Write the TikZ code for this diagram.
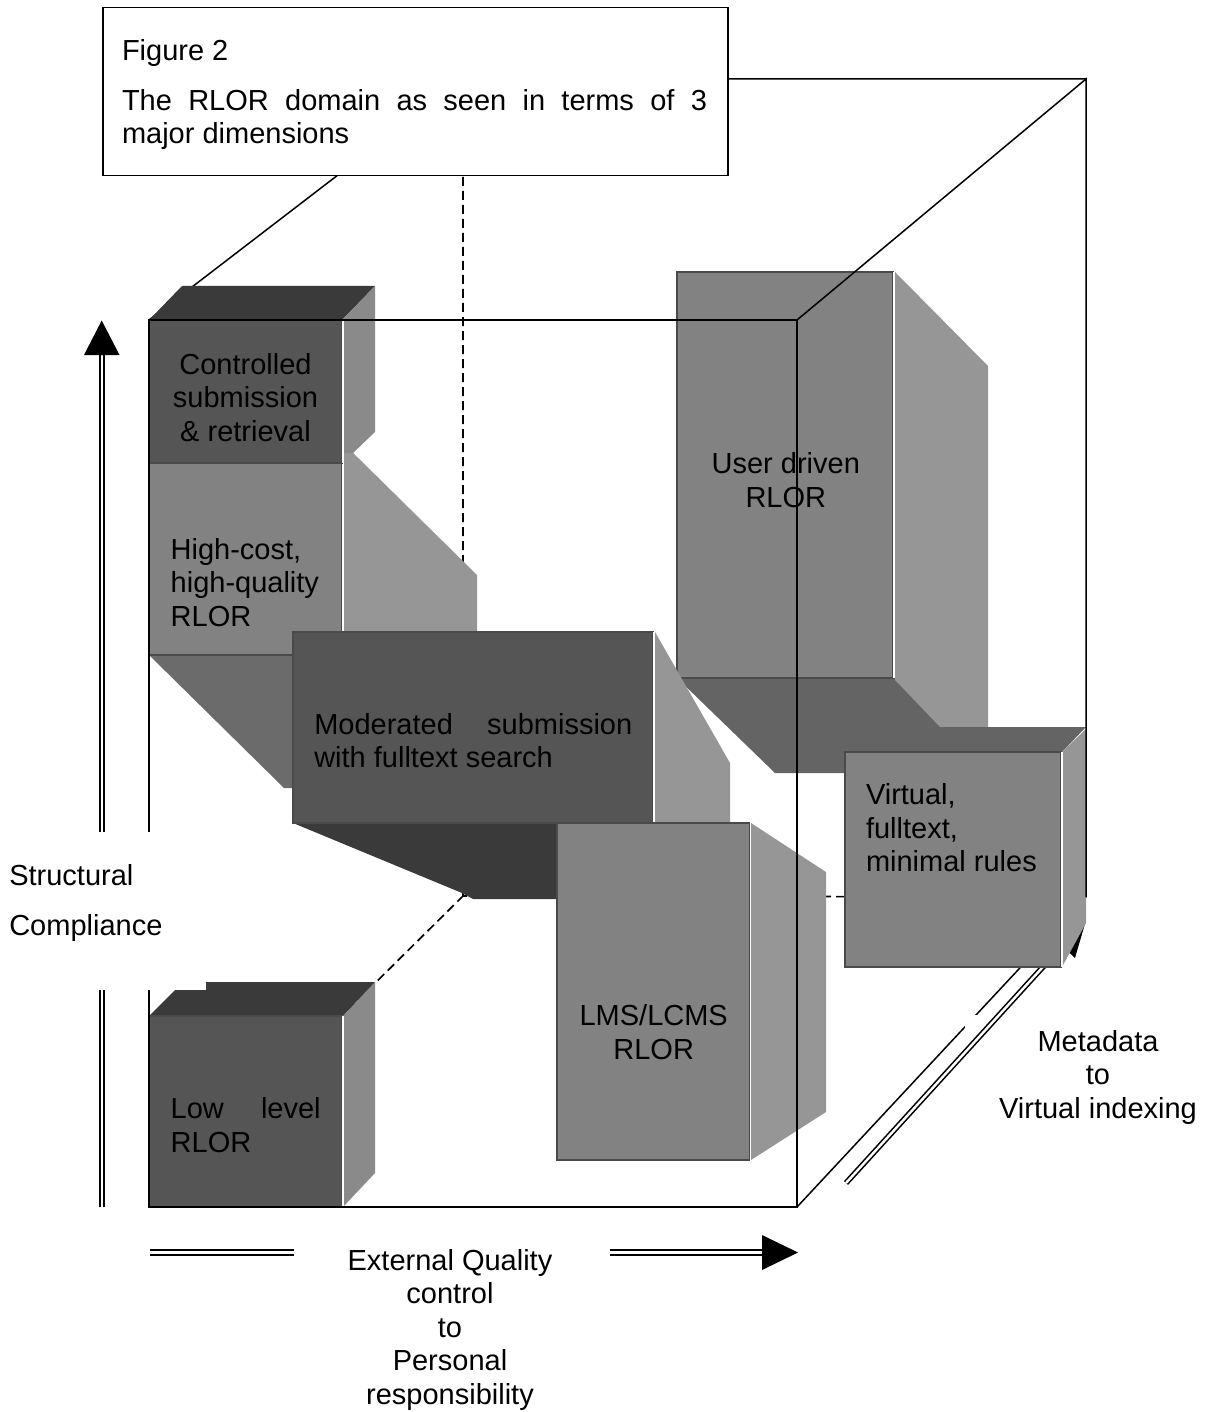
\documentclass[tikz,border=0pt]{standalone}
\usepackage{fontspec}
\setmainfont{Liberation Sans}
\definecolor{dkface}{HTML}{555555}
\definecolor{mdface}{HTML}{828282}
\definecolor{ltside}{HTML}{969696}
\definecolor{mdside}{HTML}{8A8A8A}
\definecolor{dktop}{HTML}{3A3A3A}
\definecolor{hcbot}{HTML}{6B6B6B}
\definecolor{udbot}{HTML}{646464}
\definecolor{edgegray}{HTML}{4A4A4A}
\tikzset{
  lbl/.style={font=\fontsize{29}{33.5}\selectfont, inner sep=0pt, outer sep=0pt},
  cubeline/.style={line width=1.5pt, draw=black},
  hidden/.style={line width=1.7pt, draw=black, dash pattern=on 9pt off 5pt},
  frontface/.style={draw=edgegray, line width=1.4pt},
  sepline/.style={draw=white, line width=1.6pt},
  dblline/.style={draw=black, line width=2pt, double=white, double distance=2.4pt},
  blank/.style={fill=white, draw=none},
}
\begin{document}
\begin{tikzpicture}[x=1pt,y=-1pt]
\useasboundingbox (0,0) rectangle (1211,1412);
% cube corners
\coordinate (Ftl) at (149,320);
\coordinate (Ftr) at (797,320);
\coordinate (Fbr) at (797,1207);
\coordinate (Fbl) at (149,1207);
\coordinate (Btl) at (463,79);
\coordinate (Btr) at (1086,79);
\coordinate (Bbr) at (1086,897);
\coordinate (Bbl) at (463,896);
% hidden and rear edges
\draw[hidden] (Btl) -- (Bbl) -- (Bbr);
\draw[hidden] (Fbl) -- (Bbl);
\draw[cubeline] (Ftl) -- (Btl) -- (Btr);
\draw[cubeline] (Fbr) -- (Bbr);
% High-cost box
\fill[ltside] (342,442) -- (477,575) -- (477,788) -- (342,655) -- cycle;
\fill[hcbot] (149,655) -- (342,655) -- (477,788) -- (284,788) -- cycle;
\filldraw[fill=mdface, frontface] (149,442) rectangle (342,655);
\draw[sepline] (342.8,442) -- (342.8,655);
% Controlled box
\fill[dktop] (149,320) -- (182,286) -- (375,286) -- (342,320) -- cycle;
\fill[mdside] (342,320) -- (375,286) -- (375,432) -- (353,453) -- (342,453) -- cycle;
\filldraw[fill=dkface, frontface] (149,320) rectangle (342,463);
\draw[sepline] (342.8,320) -- (342.8,463);
% User driven box
\fill[udbot] (677,678) -- (895,678) -- (942,727) -- (942,773) -- (775,773) -- cycle;
\fill[ltside] (895,272) -- (988,366) -- (988,727) -- (940,727) -- (895,680) -- cycle;
\filldraw[fill=mdface, frontface] (677,272) rectangle (893,678);
\draw[sepline] (894,272) -- (894,678);
% Moderated box
\fill[dktop] (293,823) -- (462,893) -- (473,899) -- (557,899) -- (557,823) -- cycle;
\fill[ltside] (655,632) -- (730,763) -- (730,823) -- (655,823) -- cycle;
\filldraw[fill=dkface, frontface] (293,632) rectangle (653,823);
\draw[sepline] (654,632) -- (654,823);
% LMS box
\fill[ltside] (751,823) -- (826,872) -- (826,1112) -- (751,1160) -- cycle;
\filldraw[fill=mdface, frontface] (557,823) rectangle (749.5,1160);
\draw[sepline] (750.5,823) -- (750.5,1160);
% Low level box
\fill[dktop] (149,1016) -- (175,990) -- (206,990) -- (206,982) -- (375,982) -- (343,1016) -- cycle;
\fill[mdside] (343,1016) -- (375,982) -- (375,1173) -- (343,1207) -- cycle;
\filldraw[fill=dkface, frontface] (149,1016) rectangle (342,1207);
\draw[sepline] (342.8,1016) -- (342.8,1207);
% metadata label background
\fill[blank] (965,1015) rectangle (1211,1140);
% metadata arrow
\coordinate (Ms) at (846,1183);
\coordinate (Mb) at (1062,946);
\coordinate (Mt) at (1085.7,921.3);
\draw[dblline, line width=1.6pt] (Ms) -- (Mb);
\fill[black] (Mt) -- (1075,958) -- (1049.6,934) -- cycle;
% Virtual box
\fill[udbot] (845,752) -- (868,727) -- (1086,727) -- (1062,752) -- cycle;
\fill[ltside] (1062,752) -- (1086,729) -- (1086,923) -- (1062,967) -- cycle;
\filldraw[fill=mdface, frontface] (845,752) rectangle (1061,967);
\draw[sepline] (1062,752) -- (1062,967);
% front face and visible edges
\draw[cubeline] (Ftl) rectangle (Fbr);
\draw[cubeline] (Ftr) -- (Btr) -- (Bbr);
% caption
\node[draw, fill=white, line width=1.5pt, anchor=north west, minimum width=625pt, minimum height=168pt, inner sep=0pt] (caption) at (102,7) {};
\node[lbl, anchor=base west] (capA) at (122,61) {Figure 2};
\node[lbl, anchor=base west] (capB) at (122,110.5) {\makebox[585pt][s]{The RLOR domain as seen in terms of 3}};
\node[lbl, anchor=base west] (capC) at (122,143.5) {major dimensions};
% box labels (anchor base = baseline of the last line)
\node[lbl, align=center, anchor=base] (ctrl) at (245.5,441) {Controlled\\submission\\\& retrieval};
\node[lbl, align=left, anchor=base west] (hicost) at (170.7,626) {High-cost,\\high-quality\\RLOR};
\node[lbl, align=left, anchor=base west] (moder) at (314.3,767.7) {\makebox[318pt][s]{Moderated submission}\\with fulltext search};
\node[lbl, align=center, anchor=base] (user) at (785.8,507.3) {User driven\\RLOR};
\node[lbl, align=left, anchor=base west] (virt) at (866,871.7) {Virtual,\\fulltext,\\minimal rules};
\node[lbl, align=center, anchor=base] (lms) at (653.7,1059.3) {LMS/LCMS\\RLOR};
\node[lbl, align=left, anchor=base west] (low) at (170.7,1152.3) {\makebox[150pt][s]{Low level}\\RLOR};
% left axis
\coordinate (Ls) at (101.7,1207);
\coordinate (Lb) at (101.7,355);
\draw[dblline] (Ls) -- (Lb);
\fill[black] (84,355) -- (119.5,355) -- (101.7,320.5) -- cycle;
\fill[blank] (0,832) rectangle (170,990);
\node[lbl, anchor=base west] (struct) at (9.3,885.7) {Structural};
\node[lbl, anchor=base west] (compl) at (9.3,935) {Compliance};
% bottom axis
\coordinate (Hs) at (150,1252.5);
\coordinate (He) at (762,1252.5);
\draw[dblline] (Hs) -- (He);
\fill[black] (762,1235) -- (762,1270) -- (798,1252.5) -- cycle;
\fill[blank] (294,1232) rectangle (610,1412);
\node[lbl, align=center, anchor=base] (ext) at (450,1404) {External Quality\\control\\to\\Personal\\responsibility};
% metadata label
\node[lbl, align=center, anchor=base] (meta) at (1098,1118.3) {Metadata\\to\\Virtual indexing};
\end{tikzpicture}
\end{document}
